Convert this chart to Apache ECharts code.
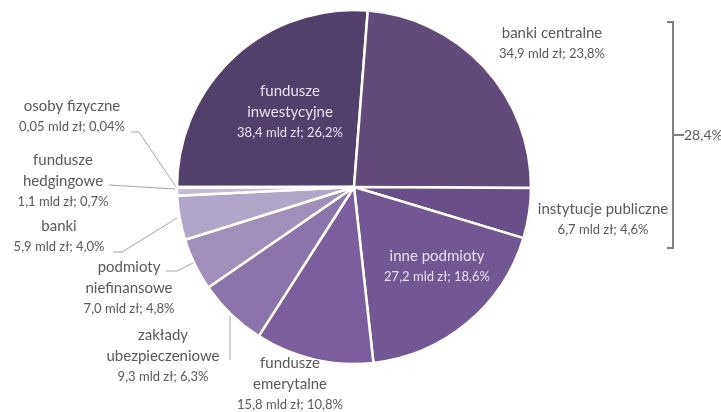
<!DOCTYPE html>
<html>
<head>
<meta charset="utf-8">
<script src="https://cdn.jsdelivr.net/npm/echarts@6/dist/echarts.min.js"></script>
<style>html,body{margin:0;padding:0;background:#fff}#c{width:721px;height:412px}</style>
</head>
<body>
<div id="c"></div>
<script>
// Data (order: clockwise starting from 9 o'clock)
const categories = ['fundusze\ninwestycyjne', 'banki centralne', 'instytucje publiczne', 'inne podmioty', 'fundusze\nemerytalne', 'zakłady\nubezpieczeniowe', 'podmioty\nniefinansowe', 'banki', 'fundusze\nhedgingowe', 'osoby fizyczne'];
const valuesMld = [38.4, 34.9, 6.7, 27.2, 15.8, 9.3, 7.0, 5.9, 1.1, 0.05];
const valueLabels = ['38,4 mld zł; 26,2%', '34,9 mld zł; 23,8%', '6,7 mld zł; 4,6%', '27,2 mld zł; 18,6%', '15,8 mld zł; 10,8%', '9,3 mld zł; 6,3%', '7,0 mld zł; 4,8%', '5,9 mld zł; 4,0%', '1,1 mld zł; 0,7%', '0,05 mld zł; 0,04%'];
const bracketLabel = '28,4%';

// Styling
const colors = ['#51406b', '#604b7b', '#684f88', '#715892', '#7b5f9c', '#8a74aa', '#a08fbb', '#b1a5c9', '#c4bcd6', '#d6d0e2'];
const insideIdx = [0, 3];
const labelPos = [[290, 112], [552, 43], [603, 219], [437, 266], [290, 384], [163, 356], [129, 288], [59, 236], [63, 181], [72, 116]];
const leaderLines = {
  5: [[230, 316], [230, 360]],
  6: [[193, 263], [177, 271], [166, 271]],
  7: [[177, 218], [122, 252], [113, 252]],
  8: [[175, 189], [109, 185]],
  9: [[176, 187], [139, 132], [131, 132]]
};

const chart = echarts.init(document.getElementById('c'), null, {renderer: 'canvas'});
const data = categories.map((c, i) => {
  const inside = insideIdx.includes(i);
  const col = inside ? '#e6e1ee' : '#595959';
  return {
    name: c,
    value: valuesMld[i],
    itemStyle: {color: colors[i]},
    label: {
      rich: {
        n: {fontSize: 15, lineHeight: 21, color: col, fontFamily: 'Lato'},
        v: {fontSize: 13, lineHeight: 20, color: col, fontFamily: 'Lato'}
      }
    },
    labelLine: {show: !!leaderLines[i]}
  };
});

chart.setOption({
  animation: false,
  backgroundColor: '#ffffff',
  series: [{
    type: 'pie',
    center: [354, 187],
    radius: [0, 177],
    startAngle: 180,
    clockwise: true,
    data: data,
    itemStyle: {borderColor: '#ffffff', borderWidth: 2.5},
    label: {
      show: true,
      position: 'outside',
      align: 'center',
      formatter: p => p.name.split('\n').map(s => '{n|' + s + '}').join('\n') + '\n{v|' + valueLabels[p.dataIndex] + '}'
    },
    labelLine: {lineStyle: {color: '#a6a6a6', width: 1}, length: 10, length2: 10},
    labelLayout: function (params) {
      const i = params.dataIndex;
      const r = {x: labelPos[i][0], y: labelPos[i][1], align: 'center', verticalAlign: 'middle'};
      if (leaderLines[i]) r.labelLinePoints = leaderLines[i];
      return r;
    }
  }],
  graphic: [
    {type: 'polyline', shape: {points: [[667, 22], [673, 22], [673, 248], [667, 248]]}, style: {stroke: '#7f7f7f', lineWidth: 2, fill: null}},
    {type: 'line', shape: {x1: 673, y1: 135, x2: 684, y2: 135}, style: {stroke: '#7f7f7f', lineWidth: 2}},
    {type: 'text', x: 684, y: 135, style: {text: bracketLabel, fill: '#595959', font: '14px Lato', verticalAlign: 'middle', align: 'left'}}
  ]
});
</script>
</body>
</html>
